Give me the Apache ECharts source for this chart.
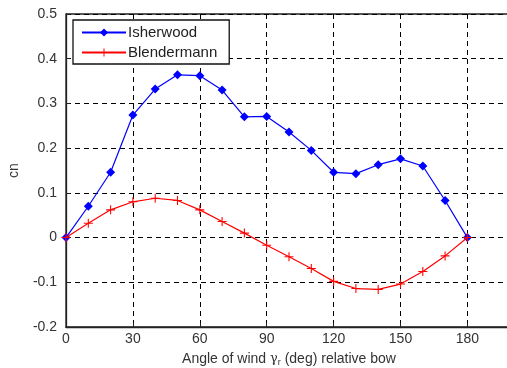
<!DOCTYPE html>
<html>
<head>
<meta charset="utf-8">
<script src="https://cdn.jsdelivr.net/npm/echarts@6/dist/echarts.min.js"></script>
<style>
  html, body { margin: 0; padding: 0; background: #fff; }
  #chart { width: 507px; height: 368px; }
</style>
</head>
<body>
<div id="chart"></div>
<script>
  // wind angle relative to bow, degrees
  var angles = [0, 10, 20, 30, 40, 50, 60, 70, 80, 90, 100, 110, 120, 130, 140, 150, 160, 170, 180];
  var isherwood = [0, 0.07, 0.146, 0.274, 0.332, 0.364, 0.362, 0.33, 0.27, 0.271, 0.236, 0.195, 0.146, 0.143, 0.163, 0.176, 0.16, 0.083, 0];
  var blendermann = [0, 0.032, 0.062, 0.08, 0.088, 0.083, 0.062, 0.036, 0.01, -0.017, -0.043, -0.069, -0.098, -0.114, -0.116, -0.104, -0.076, -0.041, 0];

  function pairs(ys) {
    return angles.map(function (x, i) { return [x, ys[i]]; });
  }

  var PLUS = "path://M4.4,0H5.6V4.4H10V5.6H5.6V10H4.4V5.6H0V4.4H4.4Z";
  var dashed = { color: "#000", type: [5, 4], width: 1 };
  var FONT = "Liberation Sans, Arial";

  var chart = echarts.init(document.getElementById("chart"));

  chart.setOption({
    animation: false,
    grid: {
      left: 66, right: -5, top: 14, bottom: 41,
      outerBoundsMode: "none",
      show: true, borderColor: "#222", borderWidth: 1.3
    },
    legend: {
      orient: "vertical",
      left: 73, top: 20,
      padding: [5, 12, 4, 8],
      itemGap: 5,
      itemWidth: 44, itemHeight: 10,
      borderColor: "#111", borderWidth: 1.3,
      backgroundColor: "#fff",
      textStyle: { fontFamily: FONT, fontSize: 15, color: "#222", padding: [0, 0, 0, -3] },
      data: ["Isherwood", "Blendermann"]
    },
    xAxis: {
      type: "value",
      min: 0, max: 200, interval: 30,
      name: "Angle of wind {g|γ}{s|r} (deg) relative bow",
      nameLocation: "middle",
      nameGap: 24,
      nameTextStyle: {
        fontFamily: FONT, fontSize: 14, color: "#333",
        rich: {
          g: { fontFamily: "DejaVu Serif", fontSize: 13, color: "#333" },
          s: { fontSize: 9, color: "#333", verticalAlign: "bottom", padding: [7, 0, 0, 0] }
        }
      },
      axisLine: { onZero: false, lineStyle: { color: "#222", width: 1.3 } },
      axisTick: { inside: true, length: 4, lineStyle: { color: "#222" } },
      axisLabel: {
        margin: 5, fontFamily: FONT, fontSize: 14, color: "#333",
        formatter: function (v) { return v > 180 ? "" : String(v); }
      },
      splitLine: { show: true, lineStyle: dashed }
    },
    yAxis: {
      type: "value",
      min: -0.2, max: 0.5, interval: 0.1,
      name: "cn",
      nameLocation: "middle",
      nameGap: 45,
      nameTextStyle: { fontFamily: FONT, fontSize: 14, color: "#333" },
      axisLine: { show: true, lineStyle: { color: "#222", width: 1.3 } },
      axisTick: { show: true, inside: true, length: 4, lineStyle: { color: "#222" } },
      axisLabel: {
        margin: 9, fontFamily: FONT, fontSize: 14, color: "#333",
        formatter: function (v) { return String(Math.round(v * 10) / 10); }
      },
      splitLine: { show: true, lineStyle: dashed }
    },
    series: [
      {
        name: "Isherwood",
        type: "line",
        data: pairs(isherwood),
        color: "#0000ff",
        symbol: "diamond",
        symbolSize: 9,
        lineStyle: { width: 1.2 },
        z: 3
      },
      {
        name: "Blendermann",
        type: "line",
        data: pairs(blendermann),
        color: "#ff0000",
        symbol: PLUS,
        symbolSize: 9,
        lineStyle: { width: 1.2 },
        z: 4
      }
    ]
  });
</script>
</body>
</html>
